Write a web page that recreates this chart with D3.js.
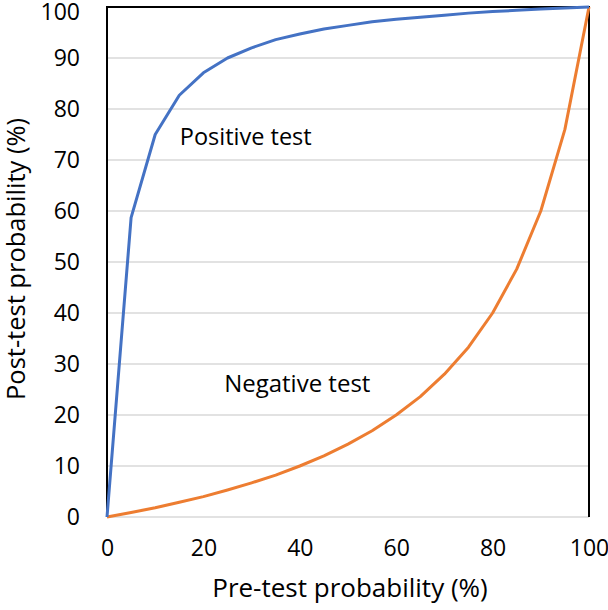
<!DOCTYPE html>
<html>
<head>
<meta charset="utf-8">
<script src="https://cdn.jsdelivr.net/npm/d3@7"></script>
<style>
  body { margin: 0; background: #fff; }
  text { font-family: "Open Sans", "Noto Sans", sans-serif; fill: #000; }
</style>
</head>
<body>
<div id="chart"></div>
<script>
// pre-test probability (%) on the x axis
const preTest = [0, 5, 10, 15, 20, 25, 30, 35, 40, 45, 50, 55, 60, 65, 70, 75, 80, 85, 90, 95, 100];
// post-test probability (%)
const positiveTest = [0, 58.7, 75.0, 82.7, 87.1, 90.0, 92.0, 93.6, 94.7, 95.7, 96.4, 97.1, 97.6, 98.0, 98.4, 98.8, 99.1, 99.35, 99.6, 99.8, 100];
const negativeTest = [0, 0.9, 1.8, 2.9, 4.0, 5.3, 6.7, 8.2, 10.0, 12.0, 14.3, 16.9, 20.0, 23.6, 28.0, 33.3, 40.0, 48.6, 60.0, 76.0, 100];
const xTicks = [0, 20, 40, 60, 80, 100];
const yTicks = [0, 10, 20, 30, 40, 50, 60, 70, 80, 90, 100];

var margin = { top: 7, right: 19, bottom: 93, left: 107 },
  width = 608 - margin.left - margin.right,
  height = 610 - margin.top - margin.bottom;

var svg = d3.select("#chart")
  .append("svg")
  .attr("width", 608)
  .attr("height", 610)
  .append("g")
  .attr("transform", "translate(" + margin.left + "," + margin.top + ")");

var x = d3.scaleLinear().domain([0, 100]).range([0, width]);
var y = d3.scaleLinear().domain([0, 100]).range([height, 0]);

// horizontal gridlines
svg.append("g")
  .selectAll("line")
  .data(yTicks)
  .enter()
  .append("line")
  .attr("x1", 0)
  .attr("x2", width)
  .attr("y1", d => y(d))
  .attr("y2", d => y(d))
  .style("stroke", "#d9d9d9")
  .style("stroke-width", 1.5);

// black frame on left, top, right
svg.append("path")
  .attr("d", "M0," + y(0) + "V" + y(100) + "H" + x(100) + "V" + y(0))
  .style("fill", "none")
  .style("stroke", "#000")
  .style("stroke-width", 2);

// Y axis labels
svg.append("g")
  .call(d3.axisLeft(y).tickValues(yTicks).tickSize(0).tickPadding(27))
  .call(g => g.select(".domain").remove())
  .selectAll("text")
  .attr("dy", d => d === 100 ? "0.55em" : "0.32em") // top label pushed down so it is not clipped
  .style("font-size", "23px")
  .style("font-family", "Open Sans, sans-serif");

// X axis labels
svg.append("g")
  .attr("transform", "translate(0," + height + ")")
  .call(d3.axisBottom(x).tickValues(xTicks).tickSize(0).tickPadding(23))
  .call(g => g.select(".domain").remove())
  .selectAll("text")
  .style("font-size", "23px")
  .style("font-family", "Open Sans, sans-serif");

var line = d3.line()
  .x((d, i) => x(preTest[i]))
  .y(d => y(d));

svg.append("path")
  .datum(negativeTest)
  .attr("d", line)
  .style("fill", "none")
  .style("stroke", "#ED7D31")
  .style("stroke-width", 3)
  .style("stroke-linejoin", "round");

svg.append("path")
  .datum(positiveTest)
  .attr("d", line)
  .style("fill", "none")
  .style("stroke", "#4472C4")
  .style("stroke-width", 3)
  .style("stroke-linejoin", "round");

// curve labels
svg.append("text")
  .attr("x", x(15.1))
  .attr("y", y(72.9))
  .style("font-size", "23.5px")
  .text("Positive test");

svg.append("text")
  .attr("x", x(24.3))
  .attr("y", y(24.5))
  .style("font-size", "24px")
  .text("Negative test");

// axis titles
svg.append("text")
  .attr("x", 243)
  .attr("y", height + 80)
  .attr("text-anchor", "middle")
  .style("font-size", "26px")
  .text("Pre-test probability (%)");

svg.append("text")
  .attr("transform", "rotate(-90)")
  .attr("x", -252)
  .attr("y", 0 - margin.left + 25)
  .attr("text-anchor", "middle")
  .style("font-size", "25.5px")
  .text("Post-test probability (%)");
</script>
</body>
</html>
